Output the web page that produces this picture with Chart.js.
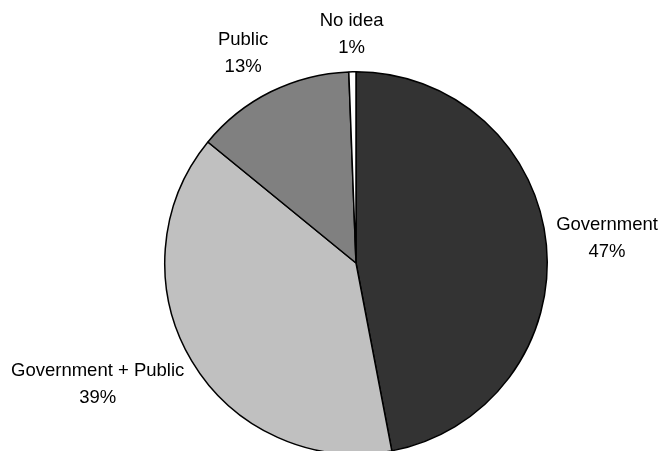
<!DOCTYPE html>
<html>
<head>
<meta charset="utf-8">
<script src="https://cdn.jsdelivr.net/npm/chart.js@4.4.1/dist/chart.umd.min.js"></script>
<style>
  html, body { margin: 0; padding: 0; background: #ffffff; overflow: hidden; }
  #wrap { position: relative; width: 661px; height: 460px; }
</style>
</head>
<body>
<div id="wrap"><canvas id="c" width="661" height="460"></canvas></div>
<script>
// ---- data ----
const categories = ["Government", "Government + Public", "Public", "No idea"];
const shares = [47, 38.9, 13.5, 0.6];
const shareLabels = ["47%", "39%", "13%", "1%"];
const sliceColors = ["#333333", "#c0c0c0", "#808080", "#ffffff"];

// label plugin: two-line labels outside each slice
const outsideLabels = {
  id: 'outsideLabels',
  afterDatasetsDraw(chart, args, opts) {
    const ctx = chart.ctx;
    const meta = chart.getDatasetMeta(0);
    ctx.save();
    ctx.font = opts.font;
    ctx.fillStyle = '#000000';
    ctx.textAlign = 'center';
    ctx.textBaseline = 'middle';
    const lh = opts.lineHeight;
    meta.data.forEach((arc, i) => {
      const p = arc.getProps(['x', 'y', 'startAngle', 'endAngle', 'outerRadius'], true);
      const mid = (p.startAngle + p.endAngle) / 2;
      const ux = Math.cos(mid), uy = Math.sin(mid);
      const r = p.outerRadius + opts.gap;
      const ax = p.x + ux * r, ay = p.y + uy * r;
      const l1 = categories[i], l2 = shareLabels[i];
      const w = Math.max(ctx.measureText(l1).width, ctx.measureText(l2).width);
      const h = lh * 2;
      const nudge = (opts.nudge && opts.nudge[i]) || [0, 0];
      const cx = ax + ux * w / 2 + nudge[0];
      const cy = ay + uy * h / 2 + nudge[1];
      ctx.fillText(l1, cx, cy - lh / 2);
      ctx.fillText(l2, cx, cy + lh / 2);
    });
    ctx.restore();
  }
};

new Chart(document.getElementById('c'), {
  type: 'pie',
  data: {
    labels: categories,
    datasets: [{
      data: shares,
      backgroundColor: sliceColors,
      borderColor: '#000000',
      borderWidth: 1.5,
      borderAlign: 'center'
    }]
  },
  options: {
    responsive: false,
    animation: false,
    layout: { padding: { left: 164, right: 113, top: 71, bottom: 5 } },
    plugins: {
      legend: { display: false },
      tooltip: { enabled: false },
      outsideLabels: {
        font: '18.5px "Liberation Sans", Arial, sans-serif',
        lineHeight: 27,
        gap: 10,
        nudge: [[0, -3], [-11, 5], [-12, -5], [0, 0]]
      }
    }
  },
  plugins: [outsideLabels]
});
</script>
</body>
</html>
